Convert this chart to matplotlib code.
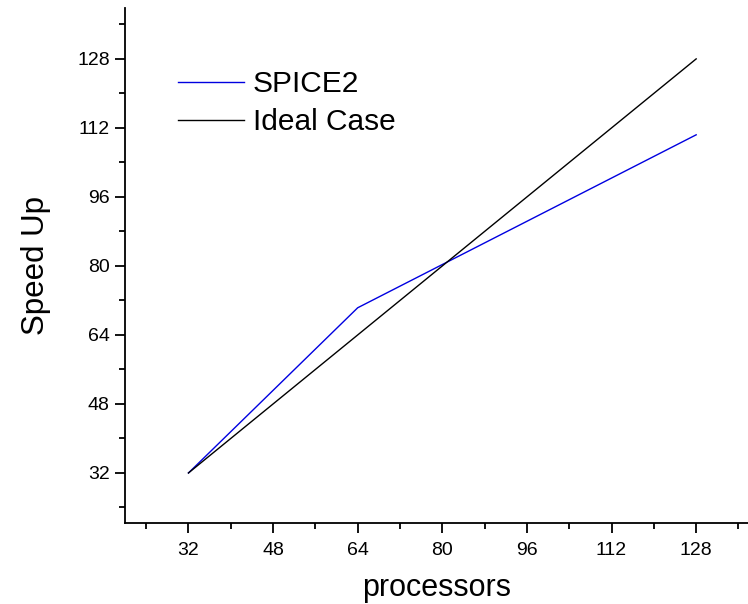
import matplotlib
matplotlib.use("Agg")
import matplotlib.pyplot as plt
from matplotlib.ticker import MultipleLocator

plt.rcParams['font.family'] = ['Liberation Sans', 'DejaVu Sans']

processors = [32, 64, 128]
spice2 = [32, 70.3, 110.4]
ideal = [32, 64, 128]

fig = plt.figure(figsize=(7.48, 6.04), dpi=100)
ax = fig.add_axes([125 / 748, 1 - 523 / 604, 1 - 125 / 748, (523 - 8) / 604])

ax.plot(processors, spice2, color='#0000e0', lw=1.0, label='SPICE2')
ax.plot(processors, ideal, color='black', lw=1.0, label='Ideal Case')

ax.set_xlim(20, 137.8)
ax.set_ylim(20.4, 139.8)
ax.xaxis.set_minor_locator(MultipleLocator(8))
ax.yaxis.set_minor_locator(MultipleLocator(8))
ax.set_xticks([32, 48, 64, 80, 96, 112, 128])
ax.set_yticks([32, 48, 64, 80, 96, 112, 128])

for s in ['top', 'right']:
    ax.spines[s].set_visible(False)
ax.spines['left'].set_linewidth(1.3)
ax.spines['bottom'].set_linewidth(1.3)

ax.tick_params(which='major', direction='out', length=7, width=1.3, labelsize=14)
ax.tick_params(which='minor', direction='out', length=4, width=1.3)
ax.tick_params(axis='x', which='major', pad=7)
ax.tick_params(axis='y', which='major', pad=4)

ax.set_xlabel('processors', fontsize=22, labelpad=10)
ax.set_ylabel('Speed Up', fontsize=22.5, labelpad=19)

ax.legend(frameon=False, fontsize=21.5, loc='upper left',
          bbox_to_anchor=(0.066, 0.902), handlelength=2.2,
          handletextpad=0.3, labelspacing=0.33, borderaxespad=0)

fig.savefig('out.png', dpi=100)
